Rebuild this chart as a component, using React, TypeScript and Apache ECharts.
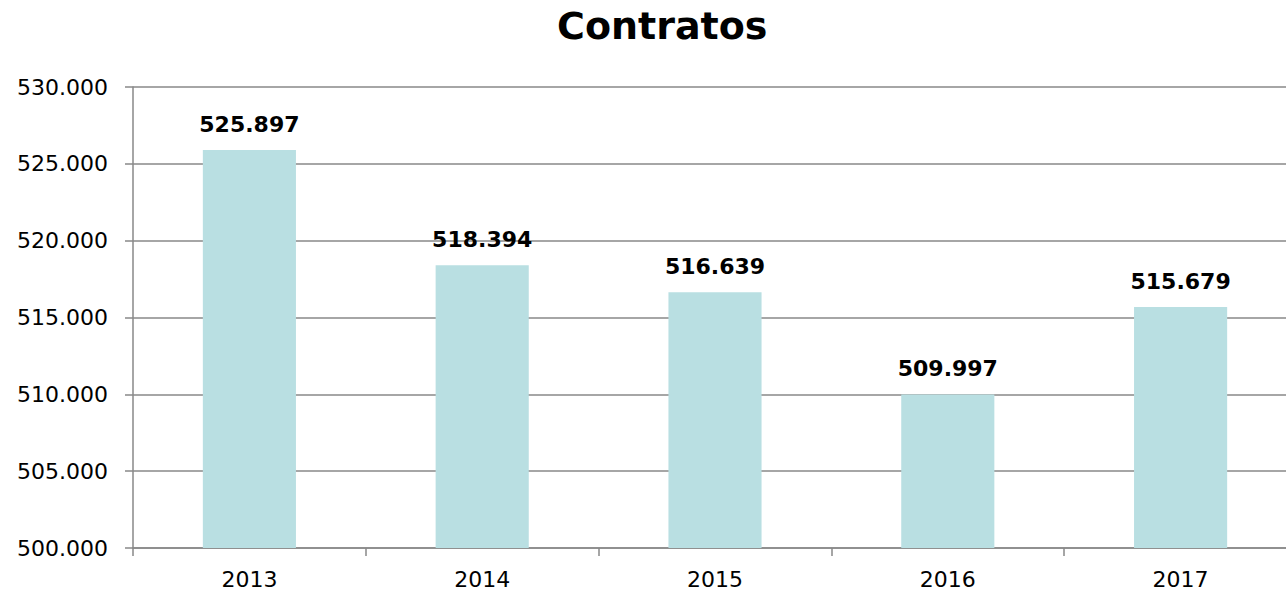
import React, { useEffect, useRef } from "react";
import * as echarts from "echarts";

const titleText = "Contratos";
const categories = ["2013", "2014", "2015", "2016", "2017"];
const values = [525897, 518394, 516639, 509997, 515679];
const yMin = 500000;
const yMax = 530000;
const yInterval = 5000;

const fmt = (v: number) =>
  Math.round(v)
    .toString()
    .replace(/\B(?=(\d{3})+(?!\d))/g, ".");

export default function App() {
  const ref = useRef<HTMLDivElement>(null);
  useEffect(() => {
    const chart = echarts.init(ref.current!, null, { renderer: "svg" });
    chart.setOption({
      animation: false,
      backgroundColor: "#ffffff",
      title: {
        text: titleText,
        left: 552,
        top: 2,
        textStyle: {
          fontFamily: "DejaVu Sans",
          fontWeight: "bold",
          fontSize: 38,
          color: "#000",
        },
      },
      grid: { left: 133, right: 3, top: 87, bottom: 47 },
      xAxis: {
        type: "category",
        data: categories,
        axisLine: { lineStyle: { color: "#888", width: 1.5 } },
        axisTick: { show: true, length: 8, lineStyle: { color: "#888", width: 1.5 } },
        axisLabel: {
          fontFamily: "DejaVu Sans",
          fontSize: 22,
          color: "#000",
          margin: 20,
        },
      },
      yAxis: {
        type: "value",
        min: yMin,
        max: yMax,
        interval: yInterval,
        axisLine: { show: true, lineStyle: { color: "#888", width: 1.5 } },
        axisTick: { show: true, length: 8, lineStyle: { color: "#888", width: 1.5 } },
        splitLine: { show: true, lineStyle: { color: "#888", width: 1.5 } },
        axisLabel: {
          fontFamily: "DejaVu Sans",
          fontSize: 22,
          color: "#000",
          margin: 25,
          formatter: (v: number) => fmt(v),
        },
      },
      series: [
        {
          type: "bar",
          data: values,
          barWidth: "40%",
          itemStyle: { color: "#b9dfe2" },
          label: {
            show: true,
            position: "top",
            distance: 15,
            fontFamily: "DejaVu Sans",
            fontWeight: "bold",
            fontSize: 22,
            color: "#000",
            formatter: (p: any) => fmt(p.value),
          },
        },
      ],
    });
    return () => chart.dispose();
  }, []);
  return (
    <div
      style={{
        position: "fixed",
        left: 0,
        top: 0,
        width: 1286,
        height: 595,
        overflow: "hidden",
        background: "#fff",
      }}
    >
      <div ref={ref} style={{ width: 1300, height: 595 }} />
    </div>
  );
}
